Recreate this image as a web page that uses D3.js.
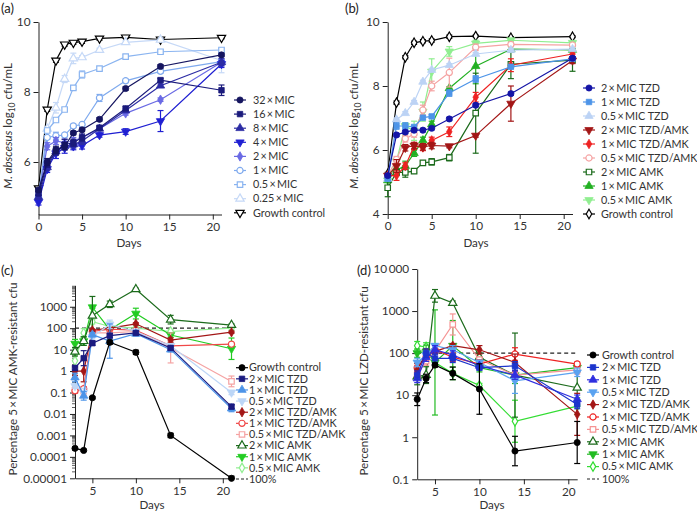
<!DOCTYPE html>
<html><head><meta charset="utf-8">
<script src="https://cdn.jsdelivr.net/npm/d3@7"></script>
<style>
body{margin:0;background:#fff}
svg{display:block}
</style>
</head><body>
<svg id="chart" width="697" height="514"></svg>
<script>
// ---------------- DATA ----------------
const daysAB = [0, 1, 2, 3, 4, 5, 7, 10, 14, 21];
const daysCD = [3, 4, 5, 7, 10, 14, 21];
const xTicksAB = [0, 5, 10, 15, 20];
const xTicksCD = [5, 10, 15, 20];
const yTicksA = [6, 8, 10];
const yTicksB = [4, 6, 8, 10];
const yTicksC = [0.00001, 0.0001, 0.001, 0.01, 0.1, 1, 10, 100, 1000];
const yTickLabelsC = ["0.00001", "0.0001", "0.001", "0.01", "0.1", "1", "10", "100", "1000"];
const yTicksD = [0.1, 1, 10, 100, 1000, 10000];
const yTickLabelsD = ["0.1", "1", "10", "100", "1000", "10\u2009000"];

// Panel (a): log10 cfu/mL (TZD alone)
const namesA = ["32\u2009×\u2009MIC", "16\u2009×\u2009MIC", "8\u2009×\u2009MIC", "4\u2009×\u2009MIC", "2\u2009×\u2009MIC", "1\u2009×\u2009MIC", "0.5\u2009×\u2009MIC", "0.25\u2009×\u2009MIC", "Growth control"];
const aMIC32  = [5.2, 6.0, 6.35, 6.45, 6.83, 6.92, 7.22, 8.1, 8.73, 9.06];
const aMIC16  = [5.1, 5.95, 6.3, 6.5, 6.55, 6.7, 6.98, 7.53, 8.34, 8.05];
const aMIC8   = [5.0, 5.85, 6.3, 6.45, 6.5, 6.6, 6.95, 7.47, 8.18, 8.85];
const aMIC4   = [4.85, 5.8, 6.25, 6.4, 6.45, 6.47, 6.77, 6.87, 7.17, 8.8];
const aMIC2   = [5.0, 6.45, 6.6, 6.55, 6.6, 6.7, 6.95, 7.39, 7.78, 8.85];
const aMIC1   = [5.0, 6.7, 6.75, 6.77, 7.03, 7.07, 7.83, 8.32, 8.59, 8.87];
const aMIC05  = [5.0, 6.9, 7.2, 7.5, 8.12, 8.5, 8.67, 9.01, 9.15, 9.2];
const aMIC025 = [5.0, 6.95, 7.55, 8.37, 8.96, 8.99, 9.2, 9.42, 9.49, 8.9];
const aGrowth = [5.25, 7.5, 8.9, 9.36, 9.41, 9.44, 9.53, 9.56, 9.5, 9.55];
const aMIC32Err  = [0.05, 0.1, 0.1, 0.1, 0.05, 0.05, 0.05, 0.05, 0.05, 0.05];
const aMIC16Err  = [0.05, 0.1, 0.1, 0.15, 0.1, 0.1, 0.05, 0.05, 0.05, 0.15];
const aMIC8Err   = [0.05, 0.1, 0.1, 0.1, 0.1, 0.1, 0.05, 0.05, 0.05, 0.1];
const aMIC4Err   = [0.08, 0.1, 0.15, 0.15, 0.1, 0.1, 0.06, 0.08, 0.3, 0.1];
const aMIC2Err   = [0.05, 0.1, 0.1, 0.1, 0.1, 0.05, 0.05, 0.05, 0.05, 0.1];
const aMIC1Err   = [0.05, 0.05, 0.1, 0.05, 0.05, 0.05, 0.1, 0.05, 0.05, 0.05];
const aMIC05Err  = [0.05, 0.05, 0.05, 0.05, 0.05, 0.1, 0.05, 0.05, 0.05, 0.05];
const aMIC025Err = [0.05, 0.05, 0.15, 0.1, 0.15, 0.05, 0.05, 0.05, 0.05, 0.35];
const aGrowthErr = [0.05, 0.05, 0.05, 0.05, 0.05, 0.05, 0.05, 0.03, 0.03, 0.03];

// Panel (b): log10 cfu/mL (TZD, TZD/AMK, AMK)
const namesB = ["2\u2009×\u2009MIC TZD", "1\u2009×\u2009MIC TZD", "0.5\u2009×\u2009MIC TZD", "2\u2009×\u2009MIC TZD/AMK", "1\u2009×\u2009MIC TZD/AMK", "0.5\u2009×\u2009MIC TZD/AMK", "2\u2009×\u2009MIC AMK", "1\u2009×\u2009MIC AMK", "0.5\u2009×\u2009MIC AMK", "Growth control"];
const b2TZD     = [5.2, 6.47, 6.56, 6.62, 6.62, 6.68, 6.97, 7.4, 7.76, 8.87];
const b1TZD     = [5.1, 6.75, 6.75, 6.72, 7.01, 7.05, 7.78, 8.22, 8.6, 8.85];
const b05TZD    = [5.1, 6.95, 7.15, 7.5, 8.13, 8.5, 8.65, 9.0, 9.12, 9.15];
const b2TZDAMK  = [5.2, 5.5, 6.07, 6.14, 6.1, 6.14, 6.12, 6.45, 7.45, 8.8];
const b1TZDAMK  = [5.2, 5.2, 5.5, 6.12, 6.08, 6.3, 6.57, 7.65, 8.65, 9.0];
const b05TZDAMK = [5.2, 5.7, 6.35, 6.5, 7.25, 8.0, 8.42, 9.21, 9.3, 9.28];
const b2AMK     = [4.82, 5.3, 5.3, 5.34, 5.6, 5.63, 5.76, 7.15, 8.68, 8.81];
const b1AMK     = [5.05, 5.38, 5.5, 5.9, 6.3, 6.8, 7.93, 8.62, 9.15, 9.13];
const b05AMK    = [5.05, 5.65, 6.75, 6.6, 7.2, 8.45, 9.08, 9.33, 9.43, 9.35];
const bGrowth   = [5.25, 7.48, 8.9, 9.35, 9.4, 9.42, 9.54, 9.56, 9.51, 9.54];
const b2TZDErr     = [0.05, 0.05, 0.05, 0.05, 0.05, 0.05, 0.05, 0.05, 0.05, 0.05];
const b1TZDErr     = [0.05, 0.1, 0.1, 0.05, 0.05, 0.05, 0.1, 0.1, 0.05, 0.05];
const b05TZDErr    = [0.05, 0.05, 0.05, 0.05, 0.05, 0.05, 0.05, 0.05, 0.05, 0.05];
const b2TZDAMKErr  = [0.05, 0.2, 0.1, 0.1, 0.1, 0.1, 0.05, 0.05, 0.55, 0.1];
const b1TZDAMKErr  = [0.05, 0.15, 0.1, 0.1, 0.1, 0.1, 0.15, 0.15, 0.2, 0.1];
const b05TZDAMKErr = [0.05, 0.1, 0.1, 0.1, 0.15, 0.15, 0.45, 0.1, 0.05, 0.05];
const b2AMKErr     = [0.28, 0.1, 0.15, 0.05, 0.05, 0.1, 0.1, 1.25, 0.45, 0.35];
const b1AMKErr     = [0.05, 0.15, 0.15, 0.1, 0.1, 0.1, 0.05, 0.55, 0.1, 0.05];
const b05AMKErr    = [0.05, 0.1, 0.1, 0.3, 0.3, 0.4, 0.15, 0.1, 0.05, 0.05];
const bGrowthErr   = [0.05, 0.05, 0.05, 0.05, 0.05, 0.05, 0.05, 0.03, 0.03, 0.03];

// Panel (c): percentage 5xMIC AMK-resistant cfu
const namesCD = ["Growth control", "2\u2009×\u2009MIC TZD", "1\u2009×\u2009MIC TZD", "0.5\u2009×\u2009MIC TZD", "2\u2009×\u2009MIC TZD/AMK", "1\u2009×\u2009MIC TZD/AMK", "0.5\u2009×\u2009MIC TZD/AMK", "2\u2009×\u2009MIC AMK", "1\u2009×\u2009MIC AMK", "0.5\u2009×\u2009MIC AMK"];
const cGrowth    = [0.00025, 0.0002, 0.057, 22, 7.5, 0.001, 0.00001];
const c2TZD      = [1.4, 4, 20, 45, 60, 12, 0.022];
const c1TZD      = [0.5, 0.07, 50, 25, 55, 10, 0.018];
const c05TZD     = [0.2, 0.1, 40, 150, 70, 15, 0.1];
const c2TZDAMK   = [1.0, 1.0, 80, 100, 160, 28, 65];
const c1TZDAMK   = [0.12, 0.15, 70, 90, 80, 15, 18];
const c05TZDAMK  = [0.13, 0.12, 60, 60, 70, 12, 0.33];
const c2AMK      = [8, 25, 380, 1300, 6500, 250, 140];
const c1AMK      = [19, 25, 950, 85, 480, 48, 11];
const c05AMK     = [3, 60, 200, 120, 100, 70, 100];
// errors as log10 half-widths
const cGrowthErr   = [0.05, 0.05, 0.05, 0.1, 0.1, 0.1, 0.1];
const c2TZDErr     = [0.1, 0.35, 0.1, 0.1, 0.1, 0.1, 0.1];
const c1TZDErr     = [0.2, 0.2, 0.1, 0.8, 0.1, 0.1, 0.15];
const c05TZDErr    = [0.1, 0.2, 0.1, 0.2, 0.1, 0.1, 0.1];
const c2TZDAMKErr  = [0.2, 0.5, 0.05, 0.05, 0.05, 0.1, 0.05];
const c1TZDAMKErr  = [0.1, 0.1, 0.05, 0.05, 0.05, 0.1, 0.05];
const c05TZDAMKErr = [0.15, 0.2, 0.1, 0.1, 0.1, 0.7, 0.25];
const c2AMKErr     = [0.2, 0.2, 0.9, 0.15, 0.05, 0.2, 0.05];
const c1AMKErr     = [0.2, 0.2, 0.05, 0.1, 0.25, 0.1, 0.5];
const c05AMKErr    = [0.3, 0.2, 0.1, 0.2, 0.1, 0.1, 0.1];

// Panel (d): percentage 5xMIC LZD-resistant cfu
const dGrowth    = [8, 25, 52, 33, 14, 0.47, 0.75];
const d2TZD      = [30, 100, 75, 75, 45, 50, 6];
const d1TZD      = [25, 80, 120, 90, 50, 30, 8];
const d05TZD     = [60, 90, 150, 120, 60, 22, 35];
const d2TZDAMK   = [40, 100, 110, 150, 120, 60, 3.5];
const d1TZDAMK   = [45, 80, 120, 80, 55, 95, 55];
const d05TZDAMK  = [30, 65, 110, 480, 70, 30, 40];
const d2AMK      = [28, 30, 2300, 1550, 80, 30, 15];
const d1AMK      = [100, 110, 60, 150, 45, 30, 45];
const d05AMK     = [150, 140, 60, 33, 17, 2.4, 5.5];
const dGrowthErr   = [0.15, 0.1, 0.05, 0.15, 0.6, 0.35, 0.5];
const d2TZDErr     = [0.1, 0.1, 0.1, 0.1, 0.05, 0.1, 0.1];
const d1TZDErr     = [0.1, 0.1, 0.1, 0.1, 0.05, 0.1, 0.1];
const d05TZDErr    = [0.1, 0.1, 0.05, 0.1, 0.05, 0.3, 0.1];
const d2TZDAMKErr  = [0.15, 0.1, 0.05, 0.05, 0.1, 0.2, 0.5];
const d1TZDAMKErr  = [0.1, 0.1, 0.05, 0.1, 0.1, 0.15, 0.05];
const d05TZDAMKErr = [0.1, 0.1, 0.05, 0.25, 0.05, 0.1, 0.1];
const d2AMKErr     = [0.2, 0.2, 0.15, 0.05, 0.1, 1.0, 0.4];
const d1AMKErr     = [0.1, 0.15, 1.25, 0.6, 0.1, 0.2, 0.1];
const d05AMKErr    = [0.1, 0.1, 0.1, 0.15, 0.05, 0.5, 0.2];

// ---------------- DRAWING ----------------
const FONT = 'Lato, "Open Sans", "Liberation Sans", sans-serif';
const TICK_FS = 11.8, LEG_FS = 10.8, TITLE_FS = 11.6;
const svg = d3.select("#chart");

const shapes = {
  circle: d3.symbolCircle, square: d3.symbolSquare, triUp: d3.symbolTriangle,
  triDown: d3.symbolTriangle, diamond: d3.symbolDiamond
};
function sizeFor(shape) {
  return shape === "diamond" ? 26 : 30;
}
function drawMarker(g, shape, open, color, cx, cy) {
  const p = d3.symbol().type(shapes[shape]).size(sizeFor(shape))();
  g.append("path").attr("d", p)
    .attr("transform", `translate(${cx},${cy})` + (shape === "triDown" ? " rotate(180)" : ""))
    .attr("fill", open ? "#fff" : color)
    .attr("stroke", color).attr("stroke-width", open ? 1.2 : 0.8);
}

function drawPanel(cfg) {
  const g = svg.append("g");
  const x = d3.scaleLinear().domain(cfg.xDomain).range(cfg.xRange);
  const y = (cfg.log ? d3.scaleLog() : d3.scaleLinear()).domain(cfg.yDomain).range(cfg.yRange);
  const x0 = cfg.xRange[0], yb = cfg.yRange[0];

  if (cfg.minor) {
    const mg = g.append("g");
    const lo = Math.log10(cfg.yDomain[0]), hi = Math.log10(cfg.yDomain[1]);
    for (let e = lo; e < hi; e++) {
      for (let k = 2; k <= 9; k++) {
        const v = k * Math.pow(10, e);
        mg.append("line").attr("x1", x0 - 3).attr("x2", x0)
          .attr("y1", y(v)).attr("y2", y(v)).attr("stroke", "#333").attr("stroke-width", 0.8);
      }
    }
  }

  const yAxis = d3.axisLeft(y).tickValues(cfg.yTicks).tickSize(5).tickSizeOuter(0).tickPadding(3)
    .tickFormat((d, i) => cfg.yLabels ? cfg.yLabels[i] : d);
  const ya = g.append("g").attr("transform", `translate(${x0},0)`).call(yAxis);
  const xAxis = d3.axisBottom(x).tickValues(cfg.xTicks).tickSize(5).tickSizeOuter(0).tickPadding(3);
  const xa = g.append("g").attr("transform", `translate(0,${yb})`).call(xAxis);
  [ya, xa].forEach(a => {
    a.attr("font-family", FONT).attr("font-size", TICK_FS);
    a.selectAll("text").attr("fill", "#333");
    a.selectAll("path,line").attr("stroke", "#222").attr("stroke-width", 1);
  });

  if (cfg.dashed) {
    g.append("line").attr("x1", x(cfg.xDomain[0])).attr("x2", x(cfg.xDomain[1]))
      .attr("y1", y(100)).attr("y2", y(100))
      .attr("stroke", "#222").attr("stroke-width", 1.2).attr("stroke-dasharray", "4,3");
  }

  const lineGen = d3.line().x(d => x(d[0])).y(d => y(d[1]));
  const order = cfg.series.slice().reverse();
  order.forEach(s => {
    const pts = cfg.days.map((d, i) => [d, s.values[i]]);
    g.append("path").attr("d", lineGen(pts)).attr("fill", "none")
      .attr("stroke", s.color).attr("stroke-width", 1.2);
    const eg = g.append("g").attr("stroke", s.color).attr("stroke-width", 1.2);
    pts.forEach((p, i) => {
      const e = s.err[i];
      let lo, hi;
      if (cfg.log) { lo = p[1] / Math.pow(10, e); hi = p[1] * Math.pow(10, e); lo = Math.max(lo, cfg.yDomain[0]); }
      else { lo = p[1] - e; hi = p[1] + e; }
      const px = x(p[0]);
      eg.append("line").attr("x1", px).attr("x2", px).attr("y1", y(lo)).attr("y2", y(hi));
      eg.append("line").attr("x1", px - 3).attr("x2", px + 3).attr("y1", y(lo)).attr("y2", y(lo));
      eg.append("line").attr("x1", px - 3).attr("x2", px + 3).attr("y1", y(hi)).attr("y2", y(hi));
    });
    pts.forEach(p => drawMarker(g, s.shape, s.open, s.color, x(p[0]), y(p[1])));
  });

  const lg = g.append("g").attr("font-family", FONT).attr("font-size", LEG_FS).attr("fill", "#333");
  const items = cfg.series.slice();
  if (cfg.dashed) items.splice(cfg.dashedLegendIndex, 0, { name: "100%", dashed: true });
  items.forEach((s, i) => {
    const ly = cfg.legend.y + i * cfg.legend.dy;
    const lx = cfg.legend.x;
    if (s.dashed) {
      lg.append("line").attr("x1", lx).attr("x2", lx + 12).attr("y1", ly).attr("y2", ly)
        .attr("stroke", "#222").attr("stroke-width", 1.2).attr("stroke-dasharray", "3,2");
    } else {
      lg.append("line").attr("x1", lx).attr("x2", lx + 12).attr("y1", ly).attr("y2", ly)
        .attr("stroke", s.color).attr("stroke-width", 1.2);
      drawMarker(lg, s.shape, s.open, s.color, lx + 6, ly);
    }
    lg.append("text").attr("x", lx + cfg.legend.tx).attr("y", ly).attr("dy", "0.35em").text(s.name);
  });

  g.append("text").attr("x", cfg.daysPos[0]).attr("y", cfg.daysPos[1])
    .attr("text-anchor", "middle").attr("font-family", FONT).attr("font-size", TITLE_FS).attr("fill", "#333").text("Days");
  const yt = g.append("text").attr("transform", `translate(${cfg.yTitlePos[0]},${cfg.yTitlePos[1]}) rotate(-90)`)
    .attr("text-anchor", "middle").attr("font-family", FONT).attr("font-size", TITLE_FS).attr("fill", "#333");
  cfg.yTitle(yt);
  g.append("text").attr("x", cfg.tag[0]).attr("y", cfg.tag[1]).attr("font-family", FONT)
    .attr("font-size", 13).attr("fill", "#222").text(cfg.tagText);
}

function cfuTitle(t) {
  t.append("tspan").attr("font-style", "italic").text("M. abscesus");
  t.append("tspan").text(" log");
  t.append("tspan").attr("font-size", 8.5).attr("dy", 3).text("10");
  t.append("tspan").attr("dy", -3).text(" cfu/mL");
}

const colA = ["#151560", "#1b1b7c", "#2c2ca4", "#1f1fd2", "#6a6ae4", "#7faaee", "#8ab4f0", "#c6d9f7", "#000"];
const shpA = [["circle", 0], ["square", 0], ["triUp", 0], ["triDown", 0], ["diamond", 0], ["circle", 1], ["square", 1], ["triUp", 1], ["triDown", 1]];
const valsA = [aMIC32, aMIC16, aMIC8, aMIC4, aMIC2, aMIC1, aMIC05, aMIC025, aGrowth];
const errsA = [aMIC32Err, aMIC16Err, aMIC8Err, aMIC4Err, aMIC2Err, aMIC1Err, aMIC05Err, aMIC025Err, aGrowthErr];

drawPanel({
  xDomain: [0, 21], xRange: [38.5, 221.5], yDomain: [4.5, 10], yRange: [214.5, 22],
  log: false, yTicks: yTicksA, xTicks: xTicksAB, days: daysAB,
  series: namesA.map((n, i) => ({ name: n, values: valsA[i], err: errsA[i], color: colA[i], shape: shpA[i][0], open: shpA[i][1] })),
  legend: { x: 234, y: 100, dy: 14.1, tx: 19 },
  daysPos: [129, 247], yTitlePos: [12, 126], yTitle: cfuTitle, tag: [1, 13], tagText: "(a)"
});

const colB = ["#1414a6", "#4d94e8", "#bcd3f5", "#a31616", "#ee2222", "#f5a3a3", "#1c6b1c", "#22b022", "#90ee90", "#000"];
const shpB = [["circle", 0], ["square", 0], ["triUp", 0], ["triDown", 0], ["diamond", 0], ["circle", 1], ["square", 1], ["triUp", 0], ["triDown", 0], ["diamond", 1]];
const valsB = [b2TZD, b1TZD, b05TZD, b2TZDAMK, b1TZDAMK, b05TZDAMK, b2AMK, b1AMK, b05AMK, bGrowth];
const errsB = [b2TZDErr, b1TZDErr, b05TZDErr, b2TZDAMKErr, b1TZDAMKErr, b05TZDAMKErr, b2AMKErr, b1AMKErr, b05AMKErr, bGrowthErr];

drawPanel({
  xDomain: [0, 21], xRange: [387.7, 572.5], yDomain: [4, 10], yRange: [214, 22],
  log: false, yTicks: yTicksB, xTicks: xTicksAB, days: daysAB,
  series: namesB.map((n, i) => ({ name: n, values: valsB[i], err: errsB[i], color: colB[i], shape: shpB[i][0], open: shpB[i][1] })),
  legend: { x: 583, y: 88, dy: 14, tx: 18 },
  daysPos: [476, 247], yTitlePos: [358, 126], yTitle: cfuTitle, tag: [345, 13], tagText: "(b)"
});

const colC = ["#000", "#1b1b80", "#4d94e8", "#bcd6f7", "#a31616", "#f04848", "#f5a3a3", "#1c6b1c", "#22cc22", "#90ee90"];
const shpCD = [["circle", 0], ["square", 0], ["triUp", 0], ["triDown", 0], ["diamond", 0], ["circle", 1], ["square", 1], ["triUp", 1], ["triDown", 0], ["diamond", 1]];
const valsC = [cGrowth, c2TZD, c1TZD, c05TZD, c2TZDAMK, c1TZDAMK, c05TZDAMK, c2AMK, c1AMK, c05AMK];
const errsC = [cGrowthErr, c2TZDErr, c1TZDErr, c05TZDErr, c2TZDAMKErr, c1TZDAMKErr, c05TZDAMKErr, c2AMKErr, c1AMKErr, c05AMKErr];

drawPanel({
  xDomain: [3, 21], xRange: [75, 231.5], yDomain: [0.00001, 10000], yRange: [478.3, 285.3],
  log: true, minor: true, yTicks: yTicksC, yLabels: yTickLabelsC, xTicks: xTicksCD, days: daysCD,
  series: namesCD.map((n, i) => ({ name: n, values: valsC[i], err: errsC[i], color: colC[i], shape: shpCD[i][0], open: shpCD[i][1] })),
  dashed: true, dashedLegendIndex: 10,
  legend: { x: 236, y: 367.7, dy: 11.13, tx: 13 },
  daysPos: [152, 509], yTitlePos: [17, 379],
  yTitle: t => t.text("Percentage 5\u2009×\u2009MIC AMK-resistant cfu"), tag: [1, 275], tagText: "(c)"
});

const colD = ["#000", "#1c34cc", "#2f2fe0", "#5aa2f0", "#a31616", "#ee2222", "#f59494", "#1c6b1c", "#22bb22", "#33dd33"];
const valsD = [dGrowth, d2TZD, d1TZD, d05TZD, d2TZDAMK, d1TZDAMK, d05TZDAMK, d2AMK, d1AMK, d05AMK];
const errsD = [dGrowthErr, d2TZDErr, d1TZDErr, d05TZDErr, d2TZDAMKErr, d1TZDAMKErr, d05TZDAMKErr, d2AMKErr, d1AMKErr, d05AMKErr];

drawPanel({
  xDomain: [3, 21], xRange: [417.2, 577.2], yDomain: [0.1, 10000], yRange: [479.3, 269],
  log: true, minor: false, yTicks: yTicksD, yLabels: yTickLabelsD, xTicks: xTicksCD, days: daysCD,
  series: namesCD.map((n, i) => ({ name: n, values: valsD[i], err: errsD[i], color: colD[i], shape: shpCD[i][0], open: shpCD[i][1] })),
  dashed: true, dashedLegendIndex: 10,
  legend: { x: 587, y: 355, dy: 12.4, tx: 15 },
  daysPos: [492, 509], yTitlePos: [368, 381],
  yTitle: t => t.text("Percentage 5\u2009×\u2009MIC LZD-resistant cfu"), tag: [357, 275], tagText: "(d)"
});
</script>
</body></html>
